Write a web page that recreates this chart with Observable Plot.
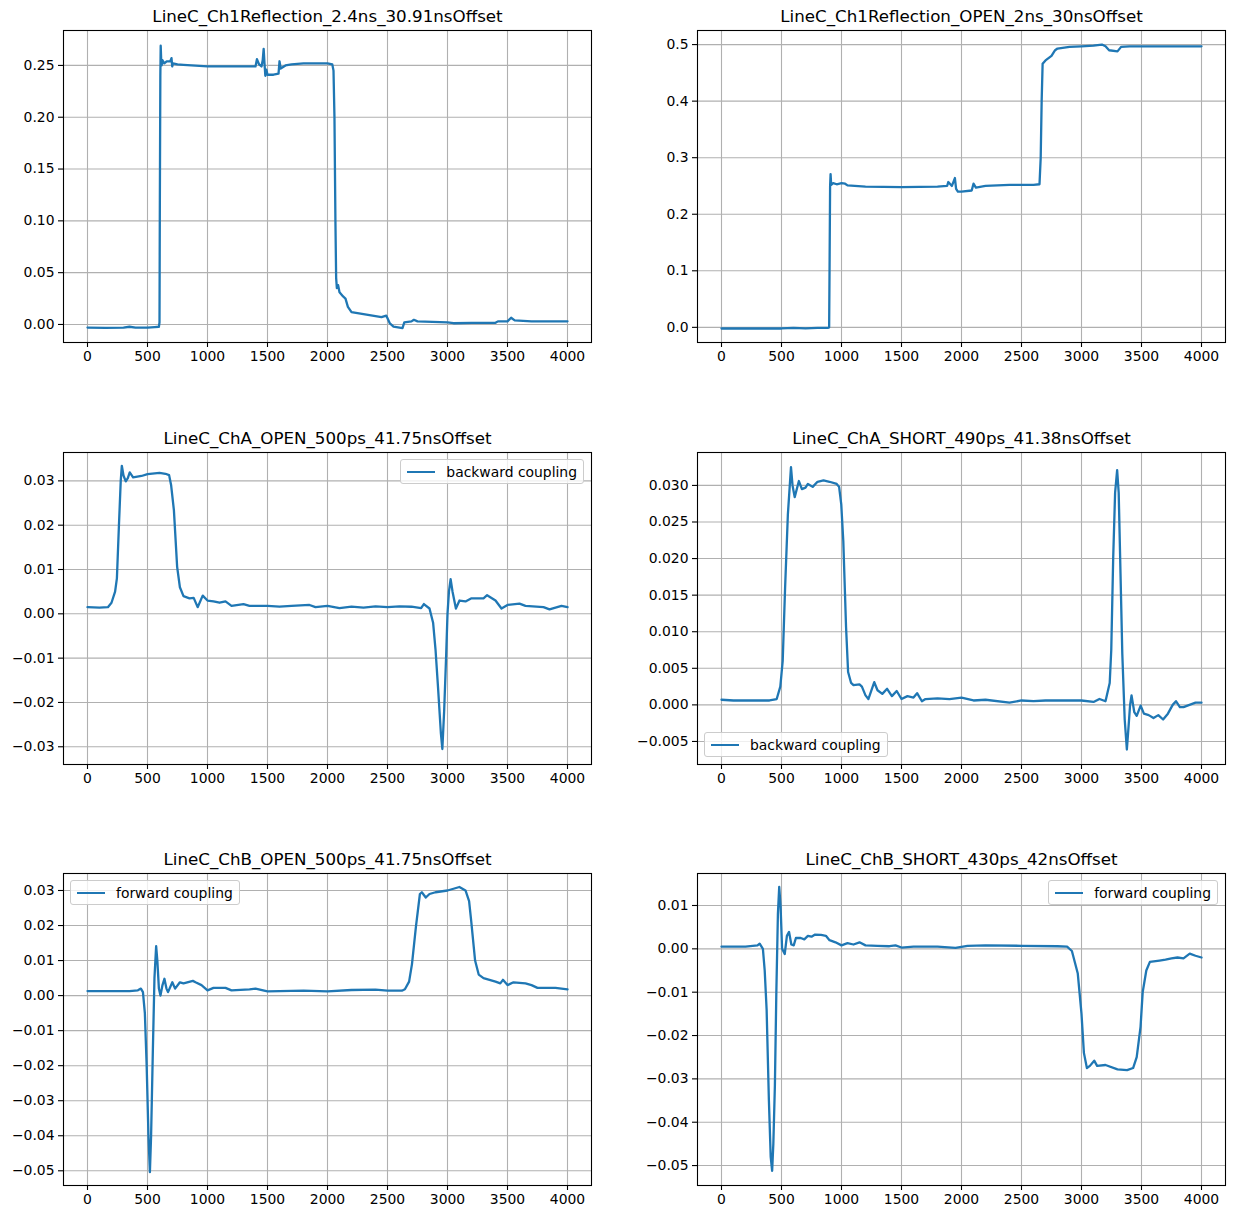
<!DOCTYPE html>
<html>
<head>
<meta charset="utf-8">
<script src="https://cdn.jsdelivr.net/npm/d3@7"></script>
<script src="https://cdn.jsdelivr.net/npm/@observablehq/plot@0.6"></script>
<style>
  body { margin: 0; background: #ffffff; }
  #fig { position: relative; width: 1234px; height: 1219px; overflow: hidden; font-family: "DejaVu Sans", sans-serif; background: #fff; }
  #fig svg { position: absolute; }
  .legend { position: absolute; box-sizing: border-box; height: 25px; display: flex; align-items: center; padding: 0 6px;
            background: rgba(255,255,255,0.8); border: 1px solid #cccccc; border-radius: 3px; font-size: 13.9px; white-space: nowrap; color: #000; }
  .legend .swatch { display: inline-block; width: 28px; height: 2px; background: #1f77b4; margin-right: 11px; }
</style>
</head>
<body>
<div id="fig"></div>
<script>
// ---------- data ----------
const titles = [
  "LineC_Ch1Reflection_2.4ns_30.91nsOffset",
  "LineC_Ch1Reflection_OPEN_2ns_30nsOffset",
  "LineC_ChA_OPEN_500ps_41.75nsOffset",
  "LineC_ChA_SHORT_490ps_41.38nsOffset",
  "LineC_ChB_OPEN_500ps_41.75nsOffset",
  "LineC_ChB_SHORT_430ps_42nsOffset"
];
const legendLabels = [null, null, "backward coupling", "backward coupling", "forward coupling", "forward coupling"];

const xTicks = [0, 500, 1000, 1500, 2000, 2500, 3000, 3500, 4000];
const yTicks1 = [0.00, 0.05, 0.10, 0.15, 0.20, 0.25];
const yTicks2 = [0.0, 0.1, 0.2, 0.3, 0.4, 0.5];
const yTicks3 = [-0.03, -0.02, -0.01, 0.00, 0.01, 0.02, 0.03];
const yTicks4 = [-0.005, 0.000, 0.005, 0.010, 0.015, 0.020, 0.025, 0.030];
const yTicks5 = [-0.05, -0.04, -0.03, -0.02, -0.01, 0.00, 0.01, 0.02, 0.03];
const yTicks6 = [-0.05, -0.04, -0.03, -0.02, -0.01, 0.00, 0.01];

const series1 = [
  [0,-0.003],[150,-0.0032],[300,-0.003],[350,-0.0022],[400,-0.0031],[500,-0.003],[560,-0.0025],[595,-0.0022],
  [600,0.002],[603,0.12],[607,0.24],[610,0.269],[614,0.256],[618,0.250],[625,0.255],[640,0.252],[660,0.254],
  [690,0.254],[700,0.257],[706,0.249],[712,0.252],[750,0.251],[800,0.2505],[1000,0.249],[1200,0.249],[1400,0.249],
  [1412,0.256],[1430,0.251],[1450,0.249],[1460,0.255],[1468,0.266],[1475,0.252],[1482,0.240],[1490,0.246],[1500,0.241],
  [1550,0.241],[1592,0.242],[1600,0.254],[1610,0.247],[1650,0.250],[1700,0.251],[1800,0.252],[1900,0.252],[2000,0.252],
  [2040,0.251],[2050,0.245],[2058,0.20],[2066,0.10],[2072,0.045],[2078,0.035],[2088,0.038],[2100,0.031],[2130,0.027],
  [2150,0.025],[2170,0.017],[2200,0.012],[2250,0.011],[2300,0.010],[2400,0.008],[2450,0.007],[2490,0.0085],[2500,0.006],
  [2520,0.001],[2550,-0.002],[2600,-0.003],[2625,-0.0035],[2640,0.002],[2700,0.003],[2720,0.0045],[2750,0.003],[3000,0.002],
  [3050,0.0012],[3200,0.0015],[3400,0.0016],[3420,0.003],[3500,0.003],[3530,0.0065],[3560,0.004],[3700,0.003],[4000,0.003]
];
const series2 = [
  [0,-0.002],[500,-0.002],[600,-0.001],[700,-0.002],[800,-0.001],[885,-0.001],[897,0.0],[901,0.12],[905,0.25],[909,0.271],
  [914,0.252],[930,0.255],[960,0.253],[1000,0.255],[1030,0.254],[1050,0.251],[1200,0.249],[1500,0.248],[1800,0.249],
  [1880,0.250],[1890,0.257],[1920,0.250],[1945,0.264],[1955,0.245],[1970,0.240],[2000,0.240],[2085,0.242],[2100,0.254],
  [2120,0.247],[2200,0.250],[2400,0.252],[2600,0.252],[2650,0.253],[2660,0.30],[2668,0.40],[2676,0.466],[2700,0.472],
  [2750,0.480],[2780,0.490],[2800,0.493],[2900,0.496],[3000,0.497],[3100,0.498],[3170,0.500],[3200,0.497],[3230,0.490],
  [3300,0.488],[3330,0.496],[3400,0.497],[3700,0.497],[4000,0.497]
];
const series3 = [
  [0,0.0015],[100,0.0014],[170,0.0015],[200,0.0025],[230,0.005],[245,0.008],[262,0.02],[277,0.030],[286,0.0334],
  [300,0.0312],[319,0.0299],[336,0.0306],[352,0.0319],[380,0.0308],[450,0.0311],[500,0.0315],[600,0.0318],[650,0.0316],
  [680,0.0313],[697,0.029],[720,0.0234],[747,0.0106],[770,0.006],[800,0.004],[850,0.0035],[885,0.0036],[918,0.0015],
  [960,0.0041],[1000,0.003],[1050,0.0028],[1100,0.0025],[1150,0.0028],[1200,0.0018],[1300,0.0022],[1350,0.0018],
  [1500,0.0018],[1600,0.0016],[1700,0.0018],[1850,0.0020],[1900,0.0015],[2000,0.0018],[2100,0.0013],[2200,0.0016],
  [2300,0.0014],[2400,0.0017],[2500,0.0015],[2600,0.0017],[2700,0.0016],[2780,0.0013],[2803,0.0022],[2850,0.0012],
  [2880,-0.002],[2900,-0.008],[2922,-0.017],[2945,-0.027],[2957,-0.0305],[2972,-0.022],[2988,-0.01],[3000,0.0],
  [3012,0.005],[3026,0.0078],[3042,0.005],[3070,0.0012],[3100,0.003],[3150,0.0028],[3200,0.0035],[3300,0.0035],
  [3330,0.0042],[3400,0.003],[3450,0.0012],[3500,0.002],[3600,0.0023],[3650,0.0018],[3800,0.0015],[3850,0.001],
  [3950,0.0018],[4000,0.0015]
];
const series4 = [
  [0,0.0007],[100,0.0006],[300,0.0006],[400,0.0006],[460,0.0008],[490,0.0025],[510,0.006],[530,0.016],[553,0.026],
  [563,0.0285],[579,0.0325],[592,0.030],[610,0.0284],[645,0.0306],[670,0.0295],[700,0.0297],[720,0.0302],[760,0.0298],
  [800,0.0305],[850,0.0307],[900,0.0305],[960,0.0302],[980,0.0298],[998,0.0274],[1015,0.0224],[1038,0.0106],
  [1055,0.0045],[1080,0.003],[1100,0.0027],[1150,0.0028],[1170,0.0025],[1200,0.0013],[1224,0.0008],[1273,0.0031],
  [1300,0.002],[1340,0.0015],[1380,0.0022],[1420,0.0012],[1460,0.0019],[1500,0.0008],[1550,0.0012],[1600,0.0010],
  [1630,0.0016],[1670,0.0005],[1700,0.0008],[1800,0.0009],[1900,0.0008],[2000,0.0010],[2100,0.0006],[2200,0.0007],
  [2400,0.0003],[2500,0.0006],[2600,0.0005],[2700,0.0006],[3000,0.0006],[3100,0.0004],[3150,0.0008],[3200,0.0005],
  [3235,0.003],[3248,0.0075],[3264,0.02],[3280,0.029],[3297,0.0321],[3310,0.029],[3325,0.018],[3340,0.007],
  [3360,-0.002],[3378,-0.0061],[3392,-0.003],[3405,0.0],[3417,0.0013],[3440,-0.001],[3460,-0.0015],[3493,-0.0001],
  [3520,-0.0012],[3560,-0.0014],[3600,-0.0018],[3640,-0.0014],[3680,-0.0020],[3720,-0.0012],[3760,0.0],[3787,0.0005],
  [3820,-0.0003],[3850,-0.0003],[3900,0.0],[3950,0.0003],[4000,0.0003]
];
const series5 = [
  [0,0.0013],[200,0.0013],[350,0.0013],[420,0.0015],[445,0.0020],[462,0.001],[478,-0.005],[493,-0.02],[508,-0.04],
  [520,-0.0504],[530,-0.04],[545,-0.015],[558,0.005],[572,0.0141],[582,0.010],[595,0.002],[608,0.0],[625,0.003],
  [641,0.0048],[658,0.002],[671,0.001],[707,0.0038],[730,0.002],[770,0.0038],[800,0.0035],[878,0.0042],[900,0.0038],
  [950,0.003],[1000,0.0015],[1050,0.0022],[1150,0.0022],[1200,0.0015],[1350,0.0018],[1400,0.0020],[1500,0.0012],
  [1800,0.0014],[2000,0.0012],[2200,0.0016],[2400,0.0017],[2500,0.0014],[2620,0.0014],[2645,0.0018],[2680,0.004],
  [2704,0.009],[2737,0.0197],[2770,0.029],[2786,0.0295],[2819,0.028],[2850,0.029],[2900,0.0295],[3000,0.030],
  [3050,0.0305],[3099,0.031],[3150,0.030],[3180,0.027],[3197,0.0215],[3230,0.010],[3260,0.006],[3300,0.005],
  [3400,0.004],[3440,0.0035],[3462,0.0045],[3500,0.003],[3550,0.0038],[3650,0.0035],[3700,0.003],[3750,0.0022],
  [3900,0.0022],[4000,0.0018]
];
const series6 = [
  [0,0.0005],[200,0.0005],[300,0.0008],[318,0.0012],[345,0.0],[360,-0.005],[376,-0.014],[395,-0.035],[410,-0.048],
  [422,-0.0512],[432,-0.045],[445,-0.0314],[457,-0.01],[470,0.008],[481,0.0143],[492,0.01],[505,0.0],[527,-0.0012],
  [545,0.003],[563,0.0039],[582,0.001],[602,0.0008],[620,0.0025],[660,0.0025],[690,0.0022],[720,0.003],[750,0.0028],
  [780,0.0033],[830,0.0032],[870,0.003],[900,0.002],[950,0.0015],[1000,0.0008],[1050,0.0013],[1100,0.001],
  [1150,0.0015],[1200,0.0008],[1300,0.0007],[1400,0.0006],[1450,0.0008],[1500,0.0003],[1600,0.0005],[1800,0.0005],
  [1950,0.0002],[2050,0.0007],[2200,0.0008],[2500,0.0007],[2800,0.0006],[2880,0.0005],[2920,-0.0005],[2969,-0.0057],
  [3000,-0.015],[3020,-0.024],[3045,-0.0275],[3070,-0.027],[3106,-0.0258],[3130,-0.027],[3200,-0.0268],[3300,-0.0278],
  [3380,-0.028],[3430,-0.0275],[3460,-0.025],[3492,-0.018],[3510,-0.010],[3540,-0.005],[3570,-0.003],[3650,-0.0027],
  [3700,-0.0025],[3750,-0.0022],[3800,-0.0020],[3850,-0.0022],[3902,-0.0011],[3950,-0.0016],[4000,-0.002]
];

// ---------- layout ----------
const FW = 528, FH = 312;              // axes frame size
const ML = 62, MR = 12, MT = 30, MB = 32;
const colLeft = [63, 697];
const rowTop = [30, 452, 873];

const panels = [
  {data: series1, yDomain: [-0.0174, 0.2837], yTicks: yTicks1, fmt: ".2f", legend: null},
  {data: series2, yDomain: [-0.0268, 0.5249], yTicks: yTicks2, fmt: ".1f", legend: null},
  {data: series3, yDomain: [-0.0340, 0.0364], yTicks: yTicks3, fmt: ".2f", legend: "tr"},
  {data: series4, yDomain: [-0.00815, 0.0345], yTicks: yTicks4, fmt: ".3f", legend: "bl"},
  {data: series5, yDomain: [-0.0542, 0.03485], yTicks: yTicks5, fmt: ".2f", legend: "tl"},
  {data: series6, yDomain: [-0.0546, 0.01738], yTicks: yTicks6, fmt: ".2f", legend: "tr"}
];

const fig = document.getElementById("fig");
const grid = {stroke: "#b0b0b0", strokeOpacity: 1, strokeWidth: 1.1};

panels.forEach((p, i) => {
  const fx = colLeft[i % 2], fy = rowTop[Math.floor(i / 2)];
  const svg = Plot.plot({
    width: FW + ML + MR, height: FH + MT + MB,
    marginLeft: ML, marginRight: MR, marginTop: MT, marginBottom: MB,
    style: {fontFamily: "DejaVu Sans, sans-serif", fontSize: "13.9px", color: "#000", background: "transparent", overflow: "visible"},
    x: {domain: [-200, 4200]},
    y: {domain: p.yDomain},
    marks: [
      Plot.gridX(xTicks, grid),
      Plot.gridY(p.yTicks, grid),
      Plot.line(p.data, {x: d => d[0], y: d => d[1], stroke: "#1f77b4", strokeWidth: 2.3}),
      Plot.frame({stroke: "#000", strokeWidth: 1.1}),
      Plot.axisX(xTicks, {tickSize: 5, tickPadding: 4, tickFormat: d => String(d), label: null, strokeWidth: 1.1}),
      Plot.axisY(p.yTicks, {tickSize: 5, tickPadding: 4, tickFormat: d3.format(p.fmt), label: null, strokeWidth: 1.1}),
      Plot.text([titles[i]], {frameAnchor: "top", dy: -14, lineAnchor: "middle", fontSize: 16.7, fill: "#000"})
    ]
  });
  svg.style.left = (fx - ML) + "px";
  svg.style.top = (fy - MT) + "px";
  fig.appendChild(svg);

  if (p.legend) {
    const lg = document.createElement("div");
    lg.className = "legend";
    lg.innerHTML = '<span class="swatch"></span><span>' + legendLabels[i] + '</span>';
    const pad = 7;
    if (p.legend[0] === "t") lg.style.top = (fy + pad) + "px";
    else lg.style.top = (fy + FH - pad - 25) + "px";
    if (p.legend[1] === "l") lg.style.left = (fx + pad) + "px";
    else lg.style.right = (1234 - (fx + FW - pad)) + "px";
    fig.appendChild(lg);
  }
});
</script>
</body>
</html>
